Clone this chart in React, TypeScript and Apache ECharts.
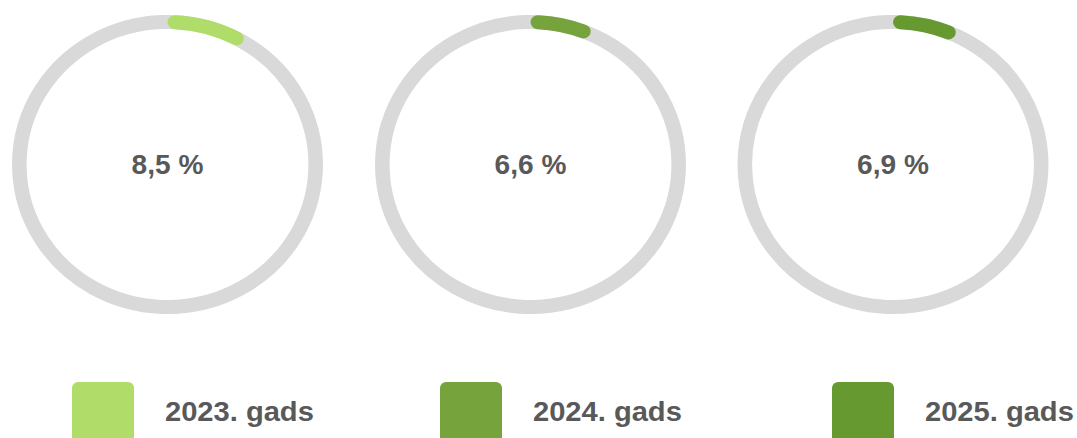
import React, { useEffect, useRef } from "react";
import * as echarts from "echarts";

const years = ["2023. gads", "2024. gads", "2025. gads"];
const values = [8.5, 6.6, 6.9];
const colors = ["#b0dc6a", "#77a33d", "#66992f"];
const centersX = [167.5, 530.5, 893];
const legendX = [72, 440, 832];

const CY = 164.5;
const R = 142.5;
const W = 14;
const SX = 1.04;
const FONT = "'Liberation Sans', Arial, sans-serif";

export default function App() {
  const ref = useRef<HTMLDivElement>(null);
  useEffect(() => {
    document.body.style.margin = "0";
    const chart = echarts.init(ref.current!, null, { renderer: "svg" });
    const cap = W / 2 / R;
    const series = [
      {
        type: "custom",
        coordinateSystem: "none",
        data: values.map((v) => [v]),
        renderItem: (params: any, api: any) => {
          const i = params.dataIndex;
          const v = api.value(0) as number;
          const start = -Math.PI / 2;
          const end = start + (v / 100) * Math.PI * 2;
          return {
            type: "group",
            x: centersX[i],
            y: CY,
            scaleX: SX,
            scaleY: 1,
            children: [
              {
                type: "arc",
                shape: { cx: 0, cy: 0, r: R, startAngle: 0, endAngle: Math.PI * 2, clockwise: true },
                style: { stroke: "#d9d9d9", lineWidth: W, fill: "none" },
              },
              {
                type: "arc",
                shape: { cx: 0, cy: 0, r: R, startAngle: start + cap, endAngle: end - cap, clockwise: true },
                style: { stroke: colors[i], lineWidth: W, lineCap: "round", fill: "none" },
              },
              {
                type: "text",
                x: 0,
                y: 0,
                style: {
                  text: v.toFixed(1).replace(".", ",") + " %",
                  fill: "#595959",
                  font: `bold 27px ${FONT}`,
                  align: "center",
                  verticalAlign: "middle",
                },
              },
            ],
          };
        },
      },
    ];
    const graphic: any[] = [];
    years.forEach((y, i) => {
      graphic.push({
        type: "rect",
        shape: { x: legendX[i], y: 382, width: 62, height: 70, r: 6 },
        style: { fill: colors[i] },
      });
      graphic.push({
        type: "text",
        x: legendX[i] + 93,
        y: 411,
        scaleX: SX,
        style: {
          text: y,
          fill: "#595959",
          font: `bold 28px ${FONT}`,
          verticalAlign: "middle",
        },
      });
    });
    chart.setOption({ animation: false, series, graphic });
    return () => chart.dispose();
  }, []);
  return <div ref={ref} style={{ width: 1077, height: 438 }} />;
}
